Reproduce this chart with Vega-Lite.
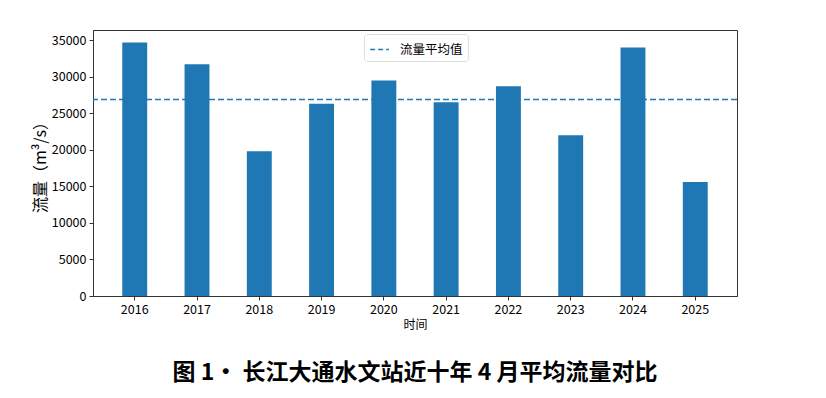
{
  "$schema": "https://vega.github.io/schema/vega-lite/v6.json",
  "width": 644,
  "height": 266,
  "autosize": "none",
  "padding": {"left": 93, "top": 30, "right": 89, "bottom": 102},
  "background": "#ffffff",
  "data": {
    "values": [
      {"year": "2016", "flow": 34700},
      {"year": "2017", "flow": 31700},
      {"year": "2018", "flow": 19800},
      {"year": "2019", "flow": 26300},
      {"year": "2020", "flow": 29500},
      {"year": "2021", "flow": 26500},
      {"year": "2022", "flow": 28700},
      {"year": "2023", "flow": 22000},
      {"year": "2024", "flow": 34000},
      {"year": "2025", "flow": 15600}
    ]
  },
  "title": {
    "text": "图 1· 长江大通水文站近十年 4 月平均流量对比",
    "orient": "bottom",
    "anchor": "middle",
    "font": "Noto Sans CJK SC",
    "fontSize": 23,
    "fontWeight": "bold",
    "color": "#000000",
    "offset": 31
  },
  "config": {
    "view": {"stroke": "#333333", "strokeWidth": 1},
    "axis": {
      "labelFont": "Noto Sans CJK SC",
      "titleFont": "Noto Sans CJK SC",
      "labelColor": "#000000",
      "titleColor": "#000000",
      "domainColor": "#333333",
      "tickColor": "#333333",
      "tickSize": 4,
      "grid": false,
      "labelFontSize": 12.5,
      "titleFontWeight": "normal",
      "labelOverlap": false
    }
  },
  "layer": [
    {
      "mark": {"type": "bar", "color": "#1f77b4"},
      "encoding": {
        "x": {
          "field": "year",
          "type": "ordinal",
          "scale": {"paddingInner": 0.6, "paddingOuter": 0.47},
          "axis": {"title": "时间", "labelAngle": 0, "titleFontSize": 12, "titlePadding": 4, "labelPadding": 3}
        },
        "y": {
          "field": "flow",
          "type": "quantitative",
          "scale": {"domain": [0, 36400], "nice": false},
          "axis": {"title": "流量（m³/s）", "format": "d", "values": [0, 5000, 10000, 15000, 20000, 25000, 30000, 35000], "titleFontSize": 16, "titlePadding": 3, "labelPadding": 3}
        }
      }
    },
    {
      "mark": {"type": "rule", "strokeDash": [6, 3], "strokeWidth": 1.5},
      "encoding": {
        "y": {
          "aggregate": "mean",
          "field": "flow",
          "type": "quantitative",
          "axis": {"title": "流量（m³/s）", "format": "d", "values": [0, 5000, 10000, 15000, 20000, 25000, 30000, 35000], "titleFontSize": 16, "titlePadding": 3, "labelPadding": 3}
        },
        "color": {
          "datum": "流量平均值",
          "type": "nominal",
          "scale": {"range": ["#1f77b4"]},
          "legend": {
            "title": null,
            "orient": "none",
            "legendX": 271,
            "legendY": 4,
            "symbolType": "stroke",
            "symbolDash": [5, 3],
            "symbolStrokeWidth": 1.5,
            "symbolSize": 350,
            "labelFont": "Noto Sans CJK SC",
            "labelFontSize": 12.5,
            "labelColor": "#000000",
            "labelOffset": 10,
            "strokeColor": "#dddddd",
            "fillColor": "#ffffff",
            "cornerRadius": 3,
            "padding": 5
          }
        }
      }
    }
  ]
}
